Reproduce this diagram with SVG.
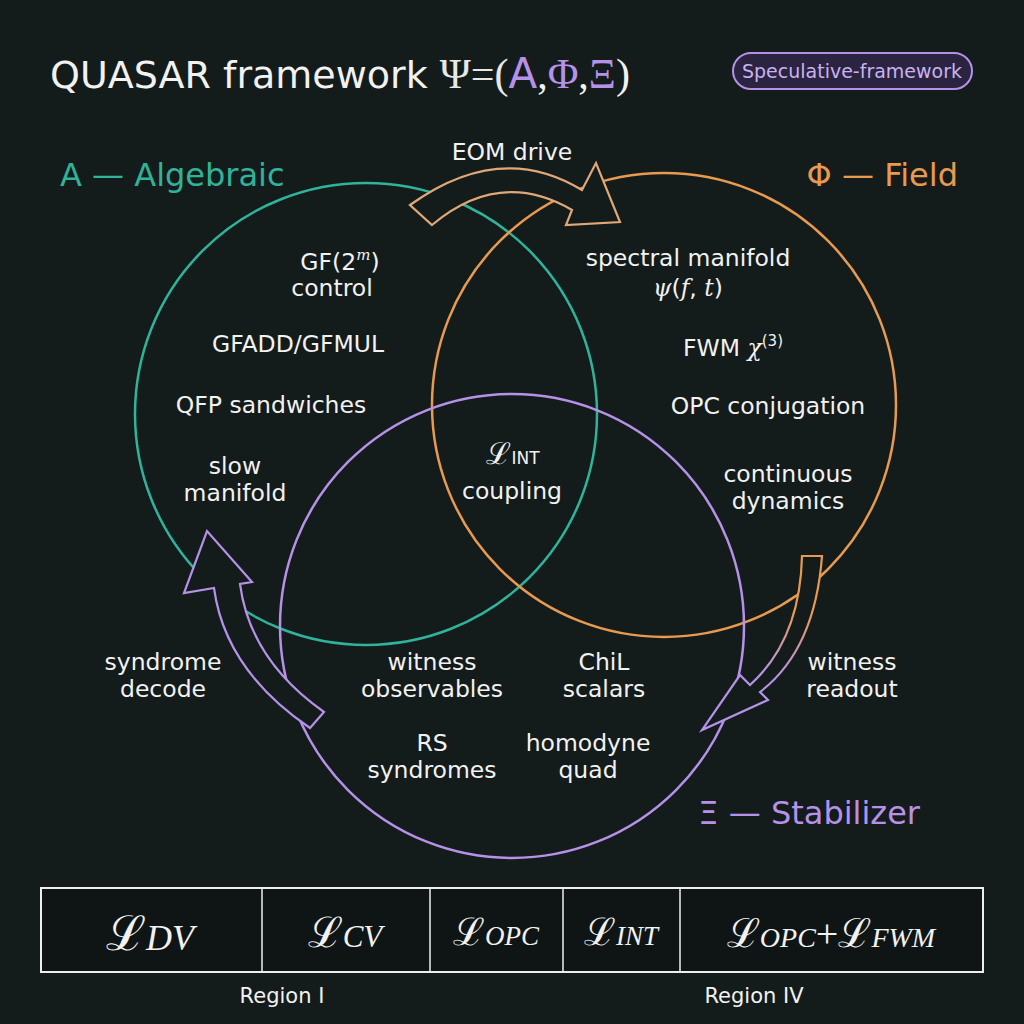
<svg xmlns="http://www.w3.org/2000/svg" width="1024" height="1024" viewBox="0 0 1024 1024">
<style>
.t{font-family:"DejaVu Sans",sans-serif;fill:#f2f2f2;font-size:23.5px;text-anchor:middle}
.m{font-family:"DejaVu Serif","Liberation Serif",serif;font-style:italic}
.c{fill:none;stroke-width:2.5}
</style>
<defs>
<linearGradient id="g" x1="0" y1="0" x2="0" y2="1"><stop offset="0.3" stop-color="#e89a4f"/><stop offset="0.7" stop-color="#b592e8"/></linearGradient>
</defs>
<rect width="1024" height="1024" fill="#141b1b"/>
<g id="title">
<text x="50" y="88" class="t" style="text-anchor:start;font-size:38px">QUASAR framework <tspan font-family="Liberation Serif" font-size="42" fill="#e8e8e8">Ψ=(</tspan><tspan fill="#b592e8" font-size="42">A</tspan><tspan font-family="Liberation Serif" font-size="42">,</tspan><tspan fill="#b592e8" font-family="Liberation Serif" font-size="42">Φ</tspan><tspan font-family="Liberation Serif" font-size="42">,</tspan><tspan fill="#b592e8" font-family="Liberation Serif" font-size="42">Ξ</tspan><tspan font-family="Liberation Serif" font-size="42">)</tspan></text>
<rect x="733" y="53" width="239" height="36" rx="18" fill="#2b2440" stroke="#b592e8" stroke-width="2"/>
<text x="852" y="78" class="t" style="font-size:19px;fill:#c9b2f0">Speculative-framework</text>
</g>
<g id="circles">
<circle id="A" cx="366" cy="414" r="231" class="c" stroke="#2fb39a"/>
<circle id="F" cx="664" cy="405" r="232" class="c" stroke="#e89a4f"/>
<circle id="X" cx="512" cy="626" r="232" class="c" stroke="#b592e8"/>
</g>
<g id="labels">
<text x="60" y="186" class="t" style="text-anchor:start;font-size:32px;fill:#2fb39a">A — Algebraic</text>
<text x="958" y="186" class="t" style="text-anchor:end;font-size:32px;fill:#e89a4f">Φ — Field</text>
<text x="920" y="824" class="t" style="text-anchor:end;font-size:32px;fill:#b592e8">Ξ — Stabilizer</text>
<text x="340" y="270" class="t">GF(2<tspan class="m" font-size="15" dy="-10">m</tspan><tspan dy="10">)</tspan></text>
<text x="332" y="296" class="t">control</text>
<text x="298" y="352" class="t">GFADD/GFMUL</text>
<text x="271" y="413" class="t">QFP sandwiches</text>
<text x="235" y="474" class="t">slow</text>
<text x="235" y="501" class="t">manifold</text>
<text x="688" y="266" class="t">spectral manifold</text>
<text x="688" y="296" class="t"><tspan class="m">ψ</tspan>(<tspan class="m">f</tspan>, <tspan class="m">t</tspan>)</text>
<text x="733" y="356" class="t">FWM <tspan class="m">χ</tspan><tspan font-size="15" dy="-10">(3)</tspan></text>
<text x="768" y="414" class="t">OPC conjugation</text>
<text x="788" y="482" class="t">continuous</text>
<text x="788" y="509" class="t">dynamics</text>
<text x="513" y="464" class="t"><tspan font-family="Liberation Serif" font-size="30">ℒ</tspan><tspan font-size="17">INT</tspan></text>
<text x="512" y="499" class="t">coupling</text>
<text x="163" y="670" class="t">syndrome</text>
<text x="163" y="697" class="t">decode</text>
<text x="432" y="670" class="t">witness</text>
<text x="432" y="697" class="t">observables</text>
<text x="604" y="670" class="t">ChiL</text>
<text x="604" y="697" class="t">scalars</text>
<text x="432" y="751" class="t">RS</text>
<text x="432" y="778" class="t">syndromes</text>
<text x="588" y="751" class="t">homodyne</text>
<text x="588" y="778" class="t">quad</text>
<text x="852" y="670" class="t">witness</text>
<text x="852" y="697" class="t">readout</text>
<text x="512" y="160" class="t">EOM drive</text>
</g>
<g id="connectors" stroke-width="2.2" stroke-linejoin="miter" fill="#141b1b">
<path d="M410,205 Q500,140 582,190 L596,163 L620,222 L566,225 L572,210 Q500,168 432,225 Z" stroke="#e0a878"/>
<path d="M324,712 Q250,660 240,584 L252,582 L207,531 L184,593 L214,588 Q225,670 310,728 Z" stroke="#b592e8"/>
<path d="M802,556 Q800,640 750,685 L740,675 L702,730 L768,700 L760,692 Q815,650 822,556 Z" stroke="url(#g)"/>
</g>
<g id="table">
<rect x="41" y="888" width="942" height="84" fill="#0f1515" stroke="#eeeeee" stroke-width="2"/>
<path d="M262,888V972M430,888V972M563,888V972M680,888V972" stroke="#eeeeee" stroke-width="1.5"/>
<g font-family="Liberation Serif,serif" fill="#f2f2f2" text-anchor="middle">
<text x="150" y="950" font-size="48">ℒ<tspan font-style="italic" font-size="36">DV</tspan></text>
<text x="345" y="947" font-size="42">ℒ<tspan font-style="italic" font-size="31">CV</tspan></text>
<text x="496" y="945" font-size="38">ℒ<tspan font-style="italic" font-size="27">OPC</tspan></text>
<text x="621" y="945" font-size="38">ℒ<tspan font-style="italic" font-size="27">INT</tspan></text>
<text x="831" y="947" font-size="40">ℒ<tspan font-style="italic" font-size="28">OPC</tspan>+ℒ<tspan font-style="italic" font-size="28">FWM</tspan></text>
</g>
<text x="282" y="1003" class="t" style="font-size:21px">Region I</text>
<text x="754" y="1003" class="t" style="font-size:21px">Region IV</text>
</g>
</svg>
